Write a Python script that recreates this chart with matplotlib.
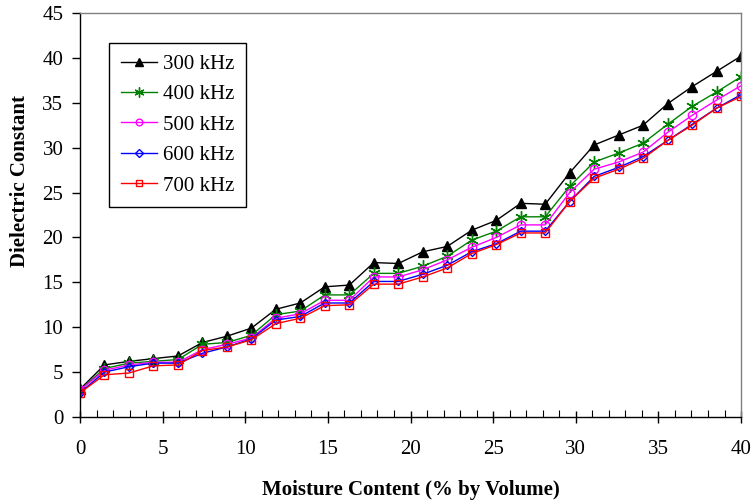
import matplotlib
matplotlib.use("Agg")
import matplotlib.pyplot as plt
from matplotlib.ticker import MultipleLocator

plt.rcParams['font.family'] = ['Liberation Serif', 'DejaVu Serif']

# moisture content (% by volume)
moisture = [0, 1.48, 2.96, 4.44, 5.93, 7.41, 8.89, 10.37, 11.85, 13.33,
            14.81, 16.30, 17.78, 19.26, 20.74, 22.22, 23.70, 25.19, 26.67,
            28.15, 29.63, 31.11, 32.59, 34.07, 35.56, 37.04, 38.52, 40.0]

eps_300 = [3.1, 5.8, 6.2, 6.5, 6.8, 8.3, 9.0, 9.9, 12.0, 12.7, 14.5, 14.7,
           17.2, 17.1, 18.4, 19.0, 20.8, 21.9, 23.8, 23.7, 27.2, 30.3, 31.4,
           32.5, 34.9, 36.8, 38.5, 40.2]
eps_400 = [3.0, 5.4, 6.0, 6.2, 6.4, 8.1, 8.3, 9.1, 11.4, 11.8, 13.6, 13.6,
           16.0, 16.0, 16.8, 17.9, 19.7, 20.7, 22.3, 22.3, 25.7, 28.4, 29.4,
           30.5, 32.6, 34.6, 36.2, 37.9]
eps_500 = [3.0, 5.2, 5.8, 6.1, 6.1, 7.5, 8.1, 8.8, 11.0, 11.5, 13.0, 13.0,
           15.6, 15.6, 16.4, 17.5, 18.9, 20.0, 21.4, 21.4, 25.0, 27.6, 28.4,
           29.5, 31.7, 33.6, 35.3, 36.9]
eps_600 = [2.7, 5.0, 5.6, 6.0, 6.0, 7.1, 7.8, 8.7, 10.8, 11.2, 12.7, 12.7,
           15.1, 15.1, 15.9, 16.9, 18.4, 19.3, 20.7, 20.7, 24.0, 26.8, 27.8,
           29.0, 30.8, 32.6, 34.4, 35.9]
eps_700 = [2.7, 4.7, 4.9, 5.7, 5.8, 7.4, 7.8, 8.6, 10.4, 11.0, 12.4, 12.5,
           14.8, 14.8, 15.6, 16.6, 18.2, 19.2, 20.5, 20.5, 24.0, 26.6, 27.6,
           28.8, 30.8, 32.5, 34.4, 35.7]

labels = ['300 kHz', '400 kHz', '500 kHz', '600 kHz', '700 kHz']

fig = plt.figure(figsize=(7.54, 5.04), dpi=100)
ax = fig.add_axes([0.1061, 0.1726, 0.8767, 0.8016])

styles = [
    dict(color='black', marker='^', ms=7, mfc='black', mec='black'),
    dict(color='green', marker=(6, 2, 0), ms=9, mec='green', mew=1.0),
    dict(color='magenta', marker='o', ms=6, mfc='none', mec='magenta'),
    dict(color='blue', marker='D', ms=4.5, mfc='none', mec='blue'),
    dict(color='red', marker='s', ms=6, mfc='none', mec='red'),
]
for y, lab, st in zip([eps_300, eps_400, eps_500, eps_600, eps_700], labels, styles):
    ax.plot(moisture, y, lw=1.0, label=lab, **st)

ax.set_xlim(0, 40)
ax.set_ylim(0, 45)
ax.xaxis.set_major_locator(MultipleLocator(5))
ax.xaxis.set_minor_locator(MultipleLocator(1))
ax.yaxis.set_major_locator(MultipleLocator(5))

ax.tick_params(axis='x', which='major', direction='inout', length=9, width=1, pad=12, labelsize=15)
ax.tick_params(axis='x', which='minor', direction='in', length=5, width=0.8)
ax.tick_params(axis='y', which='major', direction='out', length=6, width=1, pad=6, labelsize=15)

for s in ['left', 'bottom']:
    ax.spines[s].set_color('black')
    ax.spines[s].set_linewidth(1.0)
for s in ['top', 'right']:
    ax.spines[s].set_color('gray')
    ax.spines[s].set_linewidth(1.0)

ax.set_xlabel('Moisture Content (% by Volume)', fontsize=15, fontweight='bold', labelpad=15)
ax.set_ylabel('Dielectric Constant', fontsize=15, fontweight='bold', va='center')
ax.yaxis.set_label_coords(-0.091, 0.584)

leg = ax.legend(loc='upper left', bbox_to_anchor=(0.044, 0.926), fontsize=15,
                frameon=True, fancybox=False, edgecolor='black', framealpha=1,
                handlelength=1.75, handletextpad=0.3, labelspacing=0.52,
                borderpad=0.55, borderaxespad=0, markerscale=0.8)
leg.get_frame().set_linewidth(1.0)

fig.savefig('out.png', dpi=100)
